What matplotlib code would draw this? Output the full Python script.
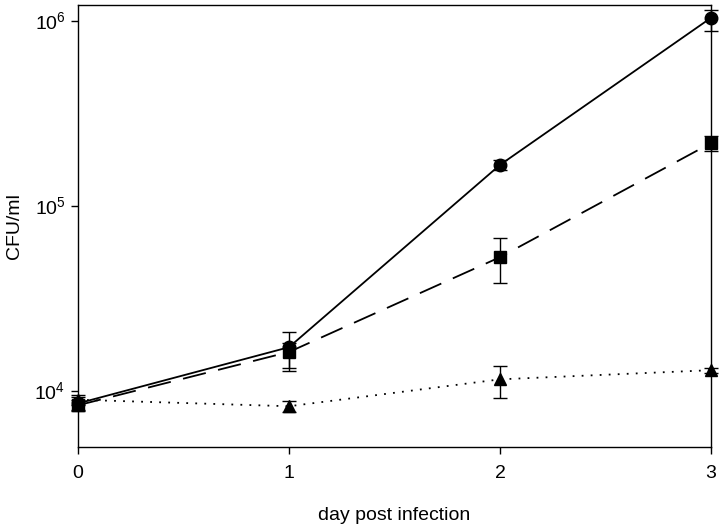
import matplotlib
matplotlib.use("Agg")
import matplotlib.pyplot as plt
from matplotlib.ticker import FixedLocator, NullLocator

plt.rcParams['font.family'] = ['Liberation Sans', 'DejaVu Sans']
plt.rcParams['mathtext.fontset'] = 'custom'
plt.rcParams['mathtext.rm'] = 'Liberation Sans'

days = [0, 1, 2, 3]

circle_vals = [8600, 17300, 167000, 1040000]
circle_lo = [7900, 13300, 156000, 880000]
circle_hi = [9300, 20800, 178000, 1140000]

square_vals = [8400, 16300, 53000, 219000]
square_lo = [7800, 12900, 38400, 198000]
square_hi = [9000, 18200, 67000, 239000]

tri_vals = [9000, 8300, 11600, 13000]
tri_lo = [8400, 7700, 9170, 12600]
tri_hi = [9600, 8900, 13650, 13400]

ytick_vals = [1e4, 1e5, 1e6]
ytick_labels = [r'$10^4$', r'$10^5$', r'$10^6$']
xtick_labels = ['0', '1', '2', '3']

fig = plt.figure(figsize=(7.2, 5.26), dpi=100)
ax = fig.add_axes([78/720, 1-447/526, (711-78)/720, (447-5)/526])

def errs(v, lo, hi):
    return [[a - b for a, b in zip(v, lo)], [c - a for a, c in zip(v, hi)]]

common = dict(color='black', ecolor='black', elinewidth=1.0, capsize=5, capthick=1.0, lw=1.3)
ax.errorbar(days, circle_vals, yerr=errs(circle_vals, circle_lo, circle_hi),
            marker='o', markersize=9, ls='-', **common)
ax.errorbar(days, square_vals, yerr=errs(square_vals, square_lo, square_hi),
            marker='s', markersize=8, ls=(0, (13, 7)), **common)
ax.errorbar(days, tri_vals, yerr=errs(tri_vals, tri_lo, tri_hi),
            marker='^', markersize=8, ls=(0, (1, 4)), **common)

ax.set_yscale('log')
ax.set_ylim(5000, 1.22e6)
ax.set_xlim(0, 3)
ax.yaxis.set_major_locator(FixedLocator(ytick_vals))
ax.yaxis.set_minor_locator(NullLocator())
ax.set_yticklabels(ytick_labels)
ax.set_xticks(days)
ax.set_xticklabels(xtick_labels)
ax.tick_params(direction='out', length=5, width=1, labelsize=14, pad=8)
ax.tick_params(axis='y', pad=4)
for s in ax.spines.values():
    s.set_linewidth(1.0)

ax.set_xlabel('day post infection', fontsize=14, labelpad=18)
ax.set_ylabel('CFU/ml', fontsize=14, labelpad=8)
for t in ax.get_children():
    try:
        t.set_clip_on(False)
    except Exception:
        pass

fig.savefig('out.png', dpi=100)
